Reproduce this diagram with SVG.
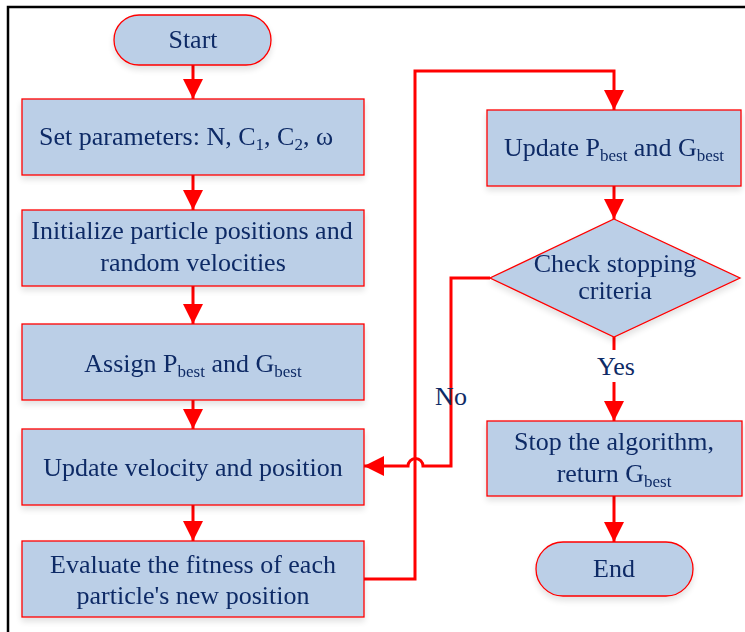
<svg xmlns="http://www.w3.org/2000/svg" width="745" height="632" viewBox="0 0 745 632">
<defs>
<style>
.n{fill:#BBCFE7;stroke:#FF0000;stroke-width:1.3}
.t{font-family:"Liberation Serif","Times New Roman",serif;font-size:26px;fill:#0F2B66;text-anchor:middle}
.s{font-size:17px}
.c{fill:none;stroke:#FF0000;stroke-width:3}
</style>
<marker id="ah" markerWidth="20" markerHeight="20" refX="20" refY="10" orient="auto" markerUnits="userSpaceOnUse">
<path d="M0,0 L20,10 L0,20 Z" fill="#FF0000"/>
</marker>
<filter id="sh" x="-10%" y="-10%" width="120%" height="140%">
<feGaussianBlur in="SourceAlpha" stdDeviation="3"/>
<feOffset dx="0" dy="4" result="b"/>
<feComponentTransfer><feFuncA type="linear" slope="0.12"/></feComponentTransfer>
<feMerge><feMergeNode/><feMergeNode in="SourceGraphic"/></feMerge>
</filter>
</defs>
<rect width="745" height="632" fill="#FFFFFF"/>
<path d="M8,632 L8,7 L745,7" fill="none" stroke="#000" stroke-width="2.5"/>

<g id="connectors">
<path class="c" d="M193,65 L193,99" marker-end="url(#ah)"/>
<path class="c" d="M193,175 L193,210" marker-end="url(#ah)"/>
<path class="c" d="M193,286 L193,324" marker-end="url(#ah)"/>
<path class="c" d="M193,400 L193,429" marker-end="url(#ah)"/>
<path class="c" d="M193,505 L193,541" marker-end="url(#ah)"/>
<path class="c" d="M364,579 L415,579 L415,71 L614,71 L614,110" marker-end="url(#ah)"/>
<path class="c" d="M614,186 L614,219" marker-end="url(#ah)"/>
<path class="c" d="M490,278 L451,278 L451,466 L423,466 A7.5,7.5 0 0 0 408,466 L364,466" marker-end="url(#ah)"/>
<path class="c" d="M614,337 L614,350"/>
<path class="c" d="M614,382 L614,421" marker-end="url(#ah)"/>
<path class="c" d="M614,496 L614,542" marker-end="url(#ah)"/>
<text class="t" x="451" y="405">No</text>
<text class="t" x="616" y="375">Yes</text>
</g>

<g id="start" filter="url(#sh)">
<rect class="n" x="114" y="15" width="157" height="50" rx="25"/>
<text class="t" x="193" y="48">Start</text>
</g>
<g id="set-params" filter="url(#sh)">
<rect class="n" x="22" y="99" width="342" height="76"/>
<text class="t" x="186" y="145">Set parameters: N, C<tspan class="s" dy="5">1</tspan><tspan dy="-5">, C</tspan><tspan class="s" dy="5">2</tspan><tspan dy="-5">, ω</tspan></text>
</g>
<g id="init" filter="url(#sh)">
<rect class="n" x="22" y="210" width="342" height="76"/>
<text class="t" x="192" y="239">Initialize particle positions and</text>
<text class="t" x="193" y="271">random velocities</text>
</g>
<g id="assign" filter="url(#sh)">
<rect class="n" x="22" y="324" width="342" height="76"/>
<text class="t" x="193" y="372">Assign P<tspan class="s" dy="5">best</tspan><tspan dy="-5"> and G</tspan><tspan class="s" dy="5">best</tspan></text>
</g>
<g id="update-vel" filter="url(#sh)">
<rect class="n" x="22" y="429" width="342" height="76"/>
<text class="t" x="193" y="476">Update velocity and position</text>
</g>
<g id="evaluate" filter="url(#sh)">
<rect class="n" x="22" y="541" width="342" height="76"/>
<text class="t" x="193" y="573">Evaluate the fitness of each</text>
<text class="t" x="193" y="604">particle's new position</text>
</g>
<g id="update-best" filter="url(#sh)">
<rect class="n" x="487" y="110" width="254" height="76"/>
<text class="t" x="614" y="156">Update P<tspan class="s" dy="5">best</tspan><tspan dy="-5"> and G</tspan><tspan class="s" dy="5">best</tspan></text>
</g>
<g id="check" filter="url(#sh)">
<polygon class="n" points="614,219 740,278 614,337 490,278"/>
<text class="t" x="615" y="272">Check stopping</text>
<text class="t" x="615" y="299">criteria</text>
</g>
<g id="stop" filter="url(#sh)">
<rect class="n" x="487" y="421" width="255" height="75"/>
<text class="t" x="614" y="450">Stop the algorithm,</text>
<text class="t" x="614" y="482">return G<tspan class="s" dy="5">best</tspan></text>
</g>
<g id="end" filter="url(#sh)">
<rect class="n" x="536" y="542" width="157" height="54" rx="27"/>
<text class="t" x="614" y="577">End</text>
</g>
</svg>
